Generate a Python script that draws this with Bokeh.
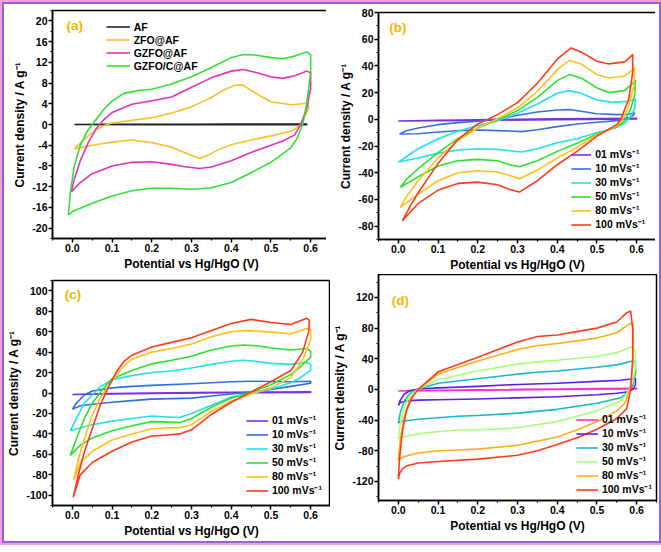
from bokeh.plotting import figure
from bokeh.layouts import column, row
from bokeh.models import Legend, LegendItem, Label, PrintfTickFormatter, FixedTicker
from bokeh.embed import file_html
from bokeh.resources import INLINE

# ---------------- axis ticks ----------------
x_ticks = [0.0, 0.1, 0.2, 0.3, 0.4, 0.5, 0.6]
x_minor = [-0.05, 0.05, 0.15, 0.25, 0.35, 0.45, 0.55, 0.65]
a_yticks = [-20, -16, -12, -8, -4, 0, 4, 8, 12, 16, 20]
b_yticks = [-80, -60, -40, -20, 0, 20, 40, 60, 80]
c_yticks = [-100, -80, -60, -40, -20, 0, 20, 40, 60, 80, 100]
d_yticks = [-120, -80, -40, 0, 40, 80, 120]

# ---------------- panel (a) ----------------
a_labels = ["AF", "ZFO@AF", "GZFO@AF", "GZFO/C@AF"]
a_af_v = [0.005, 0.1, 0.2, 0.3, 0.4, 0.5, 0.59, 0.59, 0.4, 0.2, 0.005]
a_af_j = [0.0, 0.05, 0.05, 0.05, 0.1, 0.1, 0.1, -0.05, -0.05, -0.05, 0.0]

a_zfo_v = [0.005, 0.02, 0.04, 0.06, 0.08, 0.1, 0.15, 0.2, 0.25, 0.3, 0.35, 0.38, 0.41, 0.43, 0.45, 0.48, 0.5, 0.55, 0.58, 0.593,
           0.595, 0.585, 0.575, 0.56, 0.55, 0.5, 0.45, 0.4, 0.37, 0.34, 0.32, 0.3, 0.27, 0.25, 0.2, 0.15, 0.1, 0.05, 0.005]
a_zfo_j = [-4.7, -3.6, -2.2, -1.0, -0.2, 0.3, 0.8, 1.3, 2.2, 3.4, 5.2, 6.6, 7.6, 7.6, 6.6, 5.2, 4.4, 3.8, 4.0, 4.2,
           3.0, 1.5, 0.0, -0.9, -1.3, -2.2, -3.0, -3.9, -4.8, -6.0, -6.5, -6.0, -5.0, -4.4, -3.5, -3.0, -3.4, -4.0, -4.7]

a_gzfo_v = [-0.003, 0.005, 0.02, 0.04, 0.06, 0.08, 0.1, 0.15, 0.2, 0.25, 0.3, 0.35, 0.4, 0.43, 0.46, 0.5, 0.53, 0.56, 0.59, 0.6,
            0.6, 0.59, 0.575, 0.56, 0.53, 0.5, 0.45, 0.4, 0.35, 0.32, 0.28, 0.25, 0.2, 0.15, 0.1, 0.05, 0.02, -0.003]
a_gzfo_j = [-13.0, -10.5, -7.0, -3.5, -0.8, 1.0, 2.3, 3.9, 4.6, 5.3, 7.2, 9.0, 10.3, 10.6, 10.1, 9.2, 8.9, 9.4, 10.3, 10.0,
            7.0, 3.0, 0.0, -2.0, -3.2, -4.0, -5.4, -7.0, -8.2, -8.5, -8.1, -7.7, -7.2, -7.3, -8.0, -9.5, -11.2, -13.0]

a_gzfoc_v = [-0.01, -0.005, 0.005, 0.02, 0.04, 0.055, 0.08, 0.1, 0.13, 0.17, 0.2, 0.25, 0.3, 0.35, 0.4, 0.43, 0.46, 0.5, 0.53, 0.56, 0.59, 0.6,
             0.6, 0.59, 0.58, 0.565, 0.55, 0.5, 0.45, 0.4, 0.35, 0.3, 0.25, 0.2, 0.15, 0.1, 0.05, 0.0, -0.01]
a_gzfoc_j = [-17.5, -13.0, -8.0, -4.0, -1.0, 0.5, 3.0, 4.5, 6.0, 6.6, 6.8, 7.8, 9.2, 11.0, 12.9, 13.5, 13.4, 12.9, 12.7, 13.2, 14.0, 13.5,
             10.0, 4.0, 0.0, -2.8, -4.5, -7.3, -9.3, -11.2, -12.2, -12.5, -12.3, -12.3, -12.8, -13.8, -15.2, -16.8, -17.5]

# ---------------- scan-rate labels ----------------
rate_labels = ["01 mVs\u207b\u00b9", "10 mVs\u207b\u00b9", "30 mVs\u207b\u00b9",
               "50 mVs\u207b\u00b9", "80 mVs\u207b\u00b9", "100 mVs\u207b\u00b9"]

# ---------------- panel (b) ----------------
b01_v = [0.0, 0.1, 0.2, 0.3, 0.4, 0.5, 0.6, 0.6, 0.4, 0.2, 0.0]
b01_j = [-1.2, -0.8, -0.4, 0.0, 0.4, 0.6, 0.8, 0.2, -0.2, -0.8, -1.2]
b10_v = [0.003, 0.02, 0.05, 0.1, 0.15, 0.2, 0.25, 0.3, 0.35, 0.4, 0.43, 0.46, 0.5, 0.55, 0.58, 0.595,
         0.59, 0.57, 0.55, 0.5, 0.45, 0.4, 0.35, 0.31, 0.28, 0.25, 0.2, 0.15, 0.1, 0.05, 0.003]
b10_j = [-11.0, -8.5, -6.5, -4.0, -2.5, -1.5, 0.2, 3.0, 5.5, 7.0, 7.3, 6.0, 4.2, 3.5, 3.8, 4.7,
         2.5, 0.0, -1.0, -2.2, -3.5, -5.5, -7.8, -9.2, -8.8, -8.5, -8.0, -8.5, -9.5, -10.8, -11.0]
b30_v = [0.0, 0.02, 0.05, 0.1, 0.15, 0.2, 0.25, 0.3, 0.35, 0.4, 0.43, 0.46, 0.5, 0.54, 0.58, 0.597,
         0.595, 0.585, 0.57, 0.55, 0.5, 0.45, 0.4, 0.35, 0.31, 0.28, 0.25, 0.2, 0.15, 0.1, 0.05, 0.0]
b30_j = [-32.0, -28.0, -22.0, -14.5, -9.0, -4.7, -1.0, 4.5, 11.5, 19.5, 21.5, 19.5, 14.5, 12.7, 13.5, 15.2,
         8.0, 2.0, -3.0, -6.0, -10.0, -14.5, -17.5, -22.0, -24.5, -23.5, -22.5, -22.0, -23.0, -25.5, -29.0, -32.0]
b50_v = [0.005, 0.02, 0.05, 0.1, 0.15, 0.2, 0.25, 0.3, 0.35, 0.4, 0.43, 0.46, 0.5, 0.53, 0.57, 0.597,
         0.595, 0.585, 0.57, 0.55, 0.5, 0.45, 0.4, 0.35, 0.305, 0.28, 0.25, 0.2, 0.15, 0.1, 0.05, 0.005]
b50_j = [-51.0, -45.0, -37.0, -25.0, -14.5, -6.5, -0.5, 6.5, 16.5, 29.0, 33.5, 31.0, 23.5, 20.0, 21.5, 29.0,
         18.0, 8.0, -1.0, -6.0, -11.0, -18.0, -24.0, -31.0, -35.5, -34.0, -31.0, -30.0, -31.0, -35.0, -43.0, -51.0]
b80_v = [0.005, 0.02, 0.05, 0.1, 0.15, 0.2, 0.25, 0.3, 0.35, 0.4, 0.43, 0.46, 0.5, 0.53, 0.57, 0.595,
         0.593, 0.58, 0.565, 0.55, 0.5, 0.45, 0.4, 0.35, 0.305, 0.28, 0.25, 0.2, 0.15, 0.1, 0.05, 0.005]
b80_j = [-66.0, -58.0, -46.0, -29.0, -16.0, -6.5, 0.5, 8.5, 21.0, 37.0, 44.0, 41.5, 33.5, 31.0, 32.5, 38.5,
         25.0, 10.0, 0.0, -5.0, -11.5, -21.0, -29.0, -38.0, -44.5, -42.0, -39.5, -38.5, -40.0, -46.0, -56.0, -66.0]
b100_v = [0.01, 0.03, 0.05, 0.1, 0.15, 0.2, 0.25, 0.3, 0.35, 0.4, 0.435, 0.46, 0.5, 0.53, 0.57, 0.59,
          0.59, 0.58, 0.56, 0.55, 0.5, 0.45, 0.4, 0.35, 0.305, 0.28, 0.25, 0.2, 0.15, 0.1, 0.05, 0.01]
b100_j = [-76.0, -65.0, -55.0, -33.0, -15.0, -3.5, 3.5, 12.5, 27.0, 45.0, 53.5, 50.5, 43.5, 41.5, 43.0, 48.5,
          35.0, 15.0, 0.0, -4.0, -12.5, -24.0, -34.0, -46.0, -54.5, -52.5, -49.0, -47.0, -48.0, -53.0, -63.0, -76.0]

# ---------------- panel (c) ----------------
c01_v = [0.0, 0.1, 0.2, 0.3, 0.4, 0.5, 0.6, 0.6, 0.4, 0.2, 0.0]
c01_j = [-1.5, -0.5, 0.0, 0.4, 0.8, 1.0, 1.2, 0.6, 0.2, -0.5, -1.5]
c10_v = [0.0, 0.01, 0.03, 0.05, 0.1, 0.15, 0.2, 0.3, 0.4, 0.45, 0.5, 0.55, 0.6,
         0.6, 0.55, 0.5, 0.45, 0.4, 0.35, 0.3, 0.25, 0.2, 0.15, 0.1, 0.05, 0.02, 0.0]
c10_j = [-16.0, -10.0, -2.0, 2.0, 5.0, 6.5, 7.5, 9.0, 11.0, 11.5, 11.2, 11.0, 11.5,
         9.5, 6.5, 3.5, 1.0, -1.0, -3.0, -5.0, -5.5, -6.0, -7.5, -9.0, -11.0, -12.5, -16.0]
c30_v = [-0.005, 0.01, 0.03, 0.05, 0.07, 0.1, 0.15, 0.2, 0.25, 0.3, 0.35, 0.4, 0.43, 0.46, 0.5, 0.55, 0.59, 0.6,
         0.6, 0.57, 0.55, 0.5, 0.45, 0.4, 0.35, 0.3, 0.27, 0.24, 0.2, 0.15, 0.1, 0.05, 0.02, -0.005]
c30_j = [-37.0, -25.0, -10.0, -2.0, 6.0, 13.0, 17.0, 20.0, 21.5, 24.5, 28.0, 31.0, 32.0, 31.0, 29.0, 28.0, 30.0, 28.0,
         22.0, 14.0, 10.0, 4.0, 0.0, -4.0, -12.0, -20.0, -24.0, -23.5, -22.5, -25.0, -27.5, -31.0, -34.0, -37.0]
c50_v = [-0.005, 0.01, 0.03, 0.05, 0.075, 0.1, 0.15, 0.2, 0.25, 0.3, 0.35, 0.4, 0.43, 0.47, 0.5, 0.55, 0.59, 0.6,
         0.6, 0.57, 0.55, 0.5, 0.45, 0.4, 0.35, 0.3, 0.27, 0.24, 0.2, 0.15, 0.1, 0.05, 0.02, -0.005]
c50_j = [-61.0, -45.0, -25.0, -10.0, 3.0, 14.0, 22.0, 28.5, 32.0, 36.0, 42.0, 46.0, 47.0, 46.0, 44.0, 42.0, 43.5, 41.0,
         35.0, 24.0, 18.0, 8.0, 1.0, -5.0, -14.0, -25.0, -29.0, -28.5, -28.0, -32.0, -37.0, -44.0, -51.0, -61.0]
c80_v = [0.003, 0.015, 0.03, 0.05, 0.07, 0.1, 0.13, 0.15, 0.2, 0.25, 0.3, 0.35, 0.4, 0.44, 0.5, 0.55, 0.59, 0.6,
         0.6, 0.58, 0.55, 0.5, 0.45, 0.4, 0.35, 0.3, 0.27, 0.24, 0.2, 0.15, 0.1, 0.05, 0.02, 0.003]
c80_j = [-85.0, -65.0, -45.0, -22.0, -5.0, 12.0, 27.0, 33.0, 40.0, 43.5, 48.0, 55.0, 60.0, 61.0, 59.5, 58.0, 63.0, 62.0,
         52.0, 32.0, 15.0, 5.0, -1.0, -8.0, -18.0, -31.0, -34.0, -34.0, -35.0, -40.0, -46.0, -57.0, -68.0, -85.0]
c100_v = [0.002, 0.015, 0.03, 0.05, 0.07, 0.09, 0.11, 0.13, 0.15, 0.2, 0.25, 0.3, 0.35, 0.4, 0.45, 0.5, 0.55, 0.59, 0.597,
          0.595, 0.58, 0.55, 0.5, 0.45, 0.4, 0.35, 0.3, 0.27, 0.24, 0.2, 0.15, 0.1, 0.05, 0.02, 0.002]
c100_j = [-102.0, -80.0, -58.0, -35.0, -12.0, 5.0, 20.0, 31.0, 37.0, 45.0, 49.5, 54.0, 61.0, 68.0, 72.0, 69.0, 67.0, 73.0, 71.0,
          60.0, 40.0, 22.0, 11.0, 1.0, -9.0, -21.0, -36.0, -40.0, -41.0, -42.0, -48.0, -57.0, -68.0, -80.0, -102.0]

# ---------------- panel (d) ----------------
d01_v = [0.0, 0.1, 0.2, 0.3, 0.4, 0.5, 0.6, 0.6, 0.4, 0.2, 0.0]
d01_j = [-2.0, -1.0, -0.5, 0.0, 0.5, 1.0, 1.5, 0.5, 0.0, -1.0, -2.0]
d10_v = [0.0, 0.005, 0.015, 0.03, 0.05, 0.1, 0.2, 0.3, 0.4, 0.5, 0.56, 0.59, 0.597,
         0.597, 0.59, 0.58, 0.55, 0.5, 0.4, 0.3, 0.2, 0.1, 0.05, 0.02, 0.005, 0.0]
d10_j = [-21.0, -14.0, -6.0, -1.5, 0.5, 2.0, 4.0, 6.5, 8.0, 10.5, 12.0, 14.0, 14.0,
         6.0, 0.0, -3.0, -5.0, -7.0, -9.5, -11.0, -12.5, -13.5, -14.0, -15.0, -17.0, -21.0]
d30_v = [0.0, 0.005, 0.015, 0.03, 0.05, 0.1, 0.2, 0.3, 0.35, 0.4, 0.5, 0.55, 0.59, 0.597,
         0.597, 0.59, 0.58, 0.56, 0.5, 0.4, 0.3, 0.2, 0.15, 0.1, 0.05, 0.02, 0.005, 0.0]
d30_j = [-44.0, -30.0, -15.0, -5.0, 0.5, 8.0, 14.0, 20.0, 22.5, 24.0, 29.0, 32.0, 37.0, 36.0,
         20.0, 5.0, -3.0, -11.0, -18.0, -26.0, -31.0, -34.0, -35.0, -37.0, -39.0, -41.0, -42.0, -44.0]
d50_v = [0.0, 0.005, 0.015, 0.03, 0.05, 0.1, 0.2, 0.3, 0.35, 0.4, 0.5, 0.55, 0.59, 0.597,
         0.597, 0.59, 0.58, 0.56, 0.5, 0.45, 0.4, 0.3, 0.2, 0.15, 0.1, 0.05, 0.02, 0.005, 0.0]
d50_j = [-65.0, -45.0, -22.0, -7.0, 0.5, 13.0, 24.0, 33.0, 36.0, 38.0, 43.0, 48.0, 56.0, 50.0,
         30.0, 10.0, -2.0, -15.0, -28.0, -35.0, -42.0, -50.0, -53.0, -53.0, -55.0, -58.0, -61.0, -63.0, -65.0]
d80_v = [0.0, 0.005, 0.015, 0.03, 0.05, 0.1, 0.2, 0.3, 0.35, 0.4, 0.5, 0.55, 0.58, 0.59,
         0.592, 0.59, 0.583, 0.57, 0.55, 0.5, 0.45, 0.4, 0.3, 0.2, 0.15, 0.1, 0.05, 0.02, 0.005, 0.0]
d80_j = [-93.0, -65.0, -35.0, -12.0, 0.0, 20.0, 37.0, 52.0, 57.0, 60.0, 67.0, 74.0, 85.0, 86.0,
         60.0, 30.0, 0.0, -18.0, -28.0, -42.0, -53.0, -62.0, -73.0, -78.0, -79.0, -80.0, -83.0, -87.0, -90.0, -93.0]
d100_v = [0.0, 0.003, 0.01, 0.02, 0.035, 0.05, 0.1, 0.2, 0.3, 0.35, 0.4, 0.5, 0.55, 0.575, 0.585,
          0.59, 0.59, 0.585, 0.575, 0.55, 0.5, 0.45, 0.4, 0.35, 0.3, 0.2, 0.1, 0.05, 0.02, 0.01, 0.003, 0.0]
d100_j = [-117.0, -90.0, -55.0, -28.0, -10.0, 0.0, 23.0, 42.0, 62.0, 69.0, 71.0, 80.0, 88.0, 100.0, 102.0,
          80.0, 40.0, 0.0, -25.0, -38.0, -52.0, -63.0, -72.0, -80.0, -86.0, -91.0, -94.0, -96.0, -100.0, -104.0, -110.0, -117.0]

# ---------------- colours ----------------
a_colors = ["#222222", "#f7bf2a", "#e52fbf", "#34e034"]
b_colors = ["#7a2fe6", "#3b6fe0", "#22e0e6", "#2ee02e", "#ffc01a", "#ff3b1c"]
c_colors = ["#7a2fe6", "#2f6ee6", "#22e0e6", "#2ee02e", "#ffc01a", "#ff3b1c"]
d_colors = ["#ff2fd0", "#5a22ee", "#14b9cc", "#a9ff7a", "#ffac1a", "#ff3b1c"]

FONT = "Liberation Sans"
FRAME_W = 278
BORDER_L = 44


def make_panel(yrange, yticks, ytick_step, tag, tag_x, tag_y, frame_h,
               mb_right, mb_top, mb_bottom):
    p = figure(frame_width=FRAME_W, frame_height=frame_h,
               x_range=(-0.05, 0.65), y_range=yrange,
               output_backend="svg", toolbar_location=None,
               min_border_left=BORDER_L, min_border_right=mb_right,
               min_border_top=mb_top, min_border_bottom=mb_bottom,
               background_fill_color="white", border_fill_color="white")
    p.xgrid.visible = False
    p.ygrid.visible = False
    p.outline_line_color = "black"
    p.outline_line_width = 1.5
    p.outline_line_alpha = 1.0
    yminor = [t + ytick_step / 2 for t in yticks] + [yticks[0] - ytick_step / 2]
    p.xaxis.ticker = FixedTicker(ticks=x_ticks, minor_ticks=x_minor)
    p.yaxis.ticker = FixedTicker(ticks=yticks, minor_ticks=yminor)
    p.xaxis.formatter = PrintfTickFormatter(format="%.1f")
    p.yaxis.formatter = PrintfTickFormatter(format="%d")
    p.xaxis.axis_label = "Potential vs Hg/HgO (V)"
    p.yaxis.axis_label = "Current density / A g\u207b\u00b9"
    for ax in (p.xaxis[0], p.yaxis[0]):
        ax.axis_line_color = "black"
        ax.axis_line_width = 1.5
        ax.major_tick_line_color = "black"
        ax.major_tick_line_width = 1.5
        ax.minor_tick_line_color = "black"
        ax.minor_tick_line_width = 1.2
        ax.major_tick_out = 4
        ax.major_tick_in = 0
        ax.minor_tick_out = 2
        ax.minor_tick_in = 0
        ax.major_label_text_font = FONT
        ax.major_label_text_font_style = "bold"
        ax.major_label_text_font_size = "10.5px"
        ax.major_label_text_color = "black"
        ax.major_label_standoff = 1
        ax.axis_label_text_font = FONT
        ax.axis_label_text_font_style = "bold"
        ax.axis_label_text_font_size = "12px"
        ax.axis_label_text_color = "black"
        ax.axis_label_standoff = 2
    p.add_layout(Label(x=tag_x, y=tag_y, text=tag, text_color="#f7b500",
                       text_font=FONT, text_font_style="bold", text_font_size="13.5px",
                       text_baseline="middle", text_align="left"))
    return p


def add_loops(p, series, colors, labels, loc, glyph_w, row_h, margin):
    items = []
    for (v, j), col, lab in zip(series, colors, labels):
        r = p.line(v, j, line_color=col, line_width=1.6, line_join="round")
        items.append(LegendItem(label=lab, renderers=[r]))
    lg = Legend(items=items, location=loc, orientation="vertical",
                background_fill_alpha=0, border_line_alpha=0,
                padding=0, margin=margin, spacing=0,
                glyph_width=glyph_w, glyph_height=int(row_h), label_height=int(row_h),
                label_standoff=4,
                label_text_font=FONT, label_text_font_style="bold",
                label_text_font_size="10.5px", label_text_color="black")
    p.add_layout(lg)


pa = make_panel((-22, 22), a_yticks, 4, "(a)", -0.015, 19.2, 228, 0, 6, 38)
add_loops(pa, [(a_af_v, a_af_j), (a_zfo_v, a_zfo_j), (a_gzfo_v, a_gzfo_j), (a_gzfoc_v, a_gzfoc_j)],
          a_colors, a_labels, (59, 166), 24, 13, 0)

pb = make_panel((-90, 80), b_yticks, 20, "(b)", -0.023, 68.8, 227, 3, 8, 33)
add_loops(pb, [(b01_v, b01_j), (b10_v, b10_j), (b30_v, b30_j), (b50_v, b50_j), (b80_v, b80_j), (b100_v, b100_j)],
          b_colors, rate_labels, "bottom_right", 20, 13, 8)

pc = make_panel((-110, 110), c_yticks, 20, "(c)", -0.019, 96.8, 225, 0, 4, 36)
add_loops(pc, [(c01_v, c01_j), (c10_v, c10_j), (c30_v, c30_j), (c50_v, c50_j), (c80_v, c80_j), (c100_v, c100_j)],
          c_colors, rate_labels, "bottom_right", 22, 13, 8)

pd = make_panel((-145, 150), d_yticks, 40, "(d)", -0.0165, 116, 226, 3, 0, 36)
add_loops(pd, [(d01_v, d01_j), (d10_v, d10_j), (d30_v, d30_j), (d50_v, d50_j), (d80_v, d80_j), (d100_v, d100_j)],
          d_colors, rate_labels, "bottom_right", 22, 13, 4)

page = row(column(pa, pc), column(pb, pd),
           styles={"border": "2px solid #8c63e0", "outline": "2px solid #f2a0d4",
                   "margin-left": "2px", "margin-top": "2px"})

with open("out.html", "w") as f:
    f.write(file_html(page, INLINE))
